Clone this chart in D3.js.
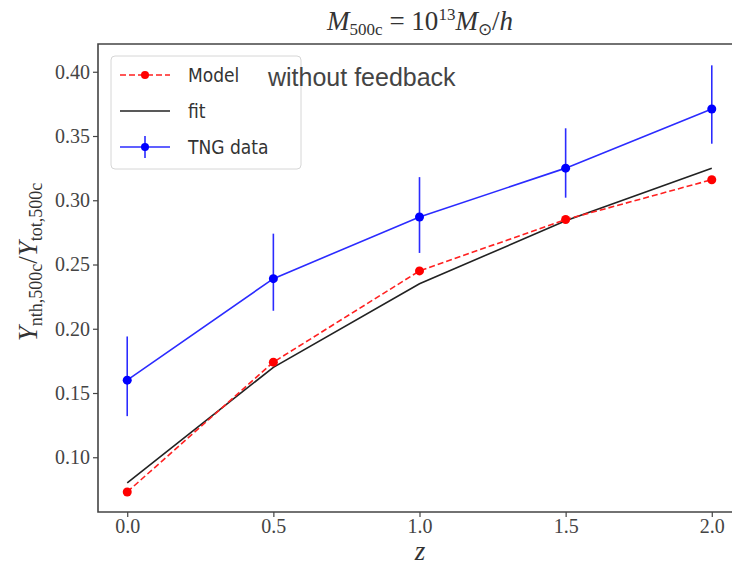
<!DOCTYPE html>
<html>
<head>
<meta charset="utf-8">
<script src="https://cdn.jsdelivr.net/npm/d3@7"></script>
<style>
  body { margin: 0; background: #fff; overflow: hidden; }
  svg { display: block; overflow: hidden; }
  .tick text { font-family: "Liberation Serif", "DejaVu Serif", serif; font-size: 20px; fill: #444; }
  .leg { font-family: "DejaVu Sans Condensed", "DejaVu Sans", sans-serif; font-size: 19px; fill: #333; font-stretch: condensed; }
</style>
</head>
<body>
<div id="chart"></div>
<script>
// --- data ---
const redshifts = [0.0, 0.5, 1.0, 1.5, 2.0];
const modelValues = [0.073, 0.174, 0.245, 0.285, 0.316];
const fitValues = [0.080, 0.170, 0.235, 0.284, 0.325];
const tngValues = [0.160, 0.239, 0.287, 0.325, 0.371];
const tngLower = [0.132, 0.214, 0.259, 0.302, 0.344];
const tngUpper = [0.194, 0.274, 0.318, 0.356, 0.405];
const xTicks = [0.0, 0.5, 1.0, 1.5, 2.0];
const yTicks = [0.10, 0.15, 0.20, 0.25, 0.30, 0.35, 0.40];
const legendLabels = ["Model", "fit", "TNG data"];

const W = 732, H = 566;
const plotLeft = 98, plotRight = 741, plotTop = 44, plotBottom = 512;

const svg = d3.select("#chart").append("svg")
    .attr("width", W).attr("height", H);

const x = d3.scaleLinear().domain([-0.1, 2.1]).range([plotLeft, plotRight]);
const y = d3.scaleLinear().domain([0.0574, 0.4216]).range([plotBottom, plotTop]);

// axes
const xAxis = svg.append("g")
    .attr("transform", `translate(0,${plotBottom})`)
    .call(d3.axisBottom(x).tickValues(xTicks).tickFormat(d3.format(".1f")).tickSize(5).tickPadding(2));
const yAxis = svg.append("g")
    .attr("transform", `translate(${plotLeft},0)`)
    .call(d3.axisLeft(y).tickValues(yTicks).tickFormat(d3.format(".2f")).tickSize(5).tickPadding(3));
[xAxis, yAxis].forEach(g => {
    g.select(".domain").remove();
    g.selectAll(".tick line").attr("stroke", "#444").attr("stroke-width", 1.2);
});

// frame (right side falls off the page)
svg.append("path")
    .attr("d", `M${plotRight},${plotTop}H${plotLeft}V${plotBottom}H${plotRight}`)
    .attr("fill", "none").attr("stroke", "#444").attr("stroke-width", 1.6);

const line = d3.line().x((d, i) => x(redshifts[i])).y(d => y(d));

// TNG data with error bars
svg.append("g").selectAll("line").data(tngValues).join("line")
    .attr("x1", (d, i) => x(redshifts[i])).attr("x2", (d, i) => x(redshifts[i]))
    .attr("y1", (d, i) => y(tngLower[i])).attr("y2", (d, i) => y(tngUpper[i]))
    .attr("stroke", "#2b2bff").attr("stroke-width", 1.6);
svg.append("path").datum(tngValues).attr("d", line)
    .attr("fill", "none").attr("stroke", "#2b2bff").attr("stroke-width", 1.6);
svg.append("g").selectAll("circle").data(tngValues).join("circle")
    .attr("cx", (d, i) => x(redshifts[i])).attr("cy", d => y(d)).attr("r", 4.5)
    .attr("fill", "#0000ff");

// fit
svg.append("path").datum(fitValues).attr("d", line)
    .attr("fill", "none").attr("stroke", "#222").attr("stroke-width", 1.6);

// model
svg.append("path").datum(modelValues).attr("d", line)
    .attr("fill", "none").attr("stroke", "#ff2020").attr("stroke-width", 1.6)
    .attr("stroke-dasharray", "6,3");
svg.append("g").selectAll("circle").data(modelValues).join("circle")
    .attr("cx", (d, i) => x(redshifts[i])).attr("cy", d => y(d)).attr("r", 4.5)
    .attr("fill", "#ff0000");

// legend
const leg = svg.append("g");
leg.append("rect").attr("x", 111).attr("y", 56).attr("width", 190).attr("height", 113)
    .attr("rx", 4).attr("fill", "#fff").attr("fill-opacity", 0.85)
    .attr("stroke", "#d6d6d6").attr("stroke-width", 1);
const rowY = [75, 111, 147];
// Model
leg.append("line").attr("x1", 120).attr("x2", 170).attr("y1", rowY[0]).attr("y2", rowY[0])
    .attr("stroke", "#ff2020").attr("stroke-width", 1.6).attr("stroke-dasharray", "6,3");
leg.append("circle").attr("cx", 145).attr("cy", rowY[0]).attr("r", 4).attr("fill", "#ff0000");
// fit
leg.append("line").attr("x1", 120).attr("x2", 170).attr("y1", rowY[1]).attr("y2", rowY[1])
    .attr("stroke", "#222").attr("stroke-width", 1.6);
// TNG
leg.append("line").attr("x1", 120).attr("x2", 170).attr("y1", rowY[2]).attr("y2", rowY[2])
    .attr("stroke", "#2b2bff").attr("stroke-width", 1.6);
leg.append("line").attr("x1", 145).attr("x2", 145).attr("y1", rowY[2] - 11).attr("y2", rowY[2] + 11)
    .attr("stroke", "#2b2bff").attr("stroke-width", 1.6);
leg.append("circle").attr("cx", 145).attr("cy", rowY[2]).attr("r", 4).attr("fill", "#0000ff");
leg.selectAll("text.leg").data(legendLabels).join("text")
    .attr("class", "leg").attr("x", 188).attr("y", (d, i) => rowY[i] + 7).text(d => d);

// annotation
svg.append("text").attr("x", 268).attr("y", 86)
    .style("font-family", "'Liberation Sans', Arial, sans-serif").style("font-size", "25px")
    .attr("fill", "#444").text("without feedback");

// title
const title = svg.append("text").attr("x", 420).attr("y", 30)
    .attr("text-anchor", "middle")
    .style("font-family", "'Liberation Serif', serif").style("font-size", "27px").attr("fill", "#333");
title.append("tspan").style("font-style", "italic").text("M");
title.append("tspan").attr("dy", 5).style("font-size", "17px").text("500c");
title.append("tspan").attr("dy", -5).text(" = 10");
title.append("tspan").attr("dy", -10).style("font-size", "17px").text("13");
title.append("tspan").attr("dy", 10).style("font-style", "italic").text("M");
title.append("tspan").attr("dy", 5).style("font-size", "17px").text("⊙");
title.append("tspan").attr("dy", -5).text("/");
title.append("tspan").style("font-style", "italic").text("h");

// y label
const ylab = svg.append("text").attr("transform", `translate(37,262) rotate(-90)`)
    .attr("text-anchor", "middle")
    .style("font-family", "'Liberation Serif', serif").style("font-size", "27px").attr("fill", "#333");
ylab.append("tspan").style("font-style", "italic").text("Y");
ylab.append("tspan").attr("dy", 5).style("font-size", "18px").text("nth,500c");
ylab.append("tspan").attr("dy", -5).text("/");
ylab.append("tspan").style("font-style", "italic").text("Y");
ylab.append("tspan").attr("dy", 5).style("font-size", "18px").text("tot,500c");

// x label
svg.append("text").attr("x", 420).attr("y", 560).attr("text-anchor", "middle")
    .style("font-family", "'Liberation Serif', serif").style("font-size", "27px")
    .style("font-style", "italic").attr("fill", "#333").text("z");
</script>
</body>
</html>
